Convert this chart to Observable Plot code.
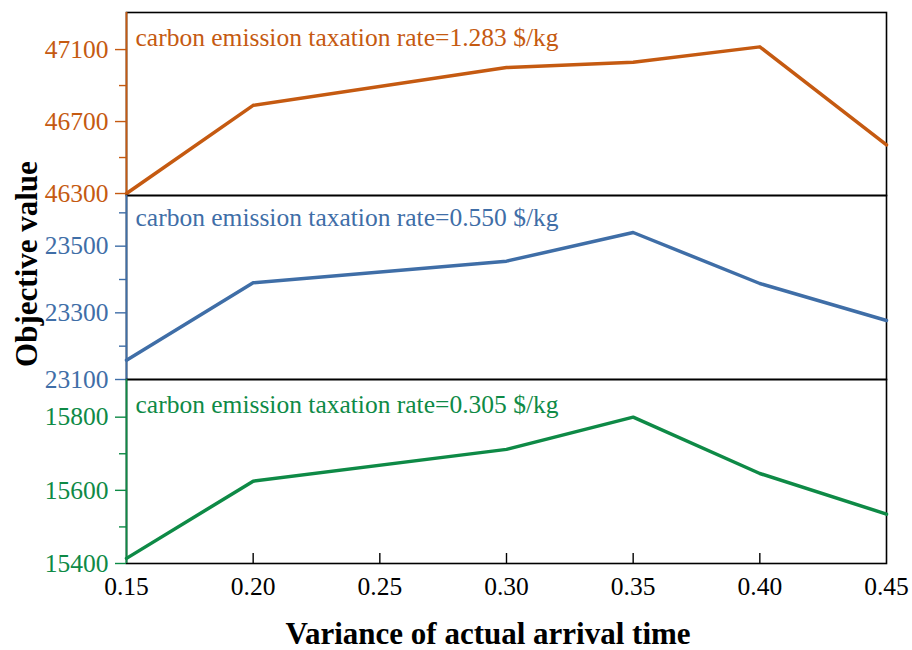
<!DOCTYPE html>
<html>
<head>
<meta charset="utf-8">
<script src="https://cdn.jsdelivr.net/npm/d3@7"></script>
<script src="https://cdn.jsdelivr.net/npm/@observablehq/plot@0.6"></script>
<style>
  html, body { margin: 0; padding: 0; background: #fff; }
  #wrap { position: relative; width: 912px; height: 650px; font-family: "Liberation Serif", "Times New Roman", serif; }
  #wrap > div.panel { position: absolute; left: 0; }
  .ytitle { position: absolute; left: 27px; top: 264px; transform: translate(-50%, -50%) rotate(-90deg); font-weight: bold; font-size: 31px; white-space: nowrap; color: #000; }
  .xtitle { position: absolute; left: 488px; top: 634px; transform: translate(-50%, -50%); font-weight: bold; font-size: 31px; white-space: nowrap; color: #000; }
</style>
</head>
<body>
<div id="wrap"></div>
<script>
const xValues = [0.15, 0.20, 0.30, 0.35, 0.40, 0.45];
const xTicks = [0.15, 0.20, 0.25, 0.30, 0.35, 0.40, 0.45];

const rates = ["1.283", "0.550", "0.305"];
const series1283 = [46300, 46790, 47000, 47030, 47115, 46570];
const series0550 = [23158, 23390, 23455, 23541, 23388, 23277];
const series0305 = [15414, 15625, 15712, 15800, 15646, 15535];

const yMajor1283 = [46300, 46700, 47100];
const yMinor1283 = [46500, 46900];
const yMajor0550 = [23100, 23300, 23500];
const yMinor0550 = [23200, 23400, 23600];
const yMajor0305 = [15400, 15600, 15800];
const yMinor0305 = [15500, 15700];

const colors = ["#C55A11", "#3F6EA7", "#0E8A46"];

const panels = [
  {values: series1283, major: yMajor1283, minor: yMinor1283, domain: [46289, 47306], top: 0, marginTop: 12, height: 195, marginBottom: 0, textDy: 25},
  {values: series0550, major: yMajor0550, minor: yMinor0550, domain: [23100, 23652], top: 195, marginTop: 0, height: 184, marginBottom: 0, textDy: 22},
  {values: series0305, major: yMajor0305, minor: yMinor0305, domain: [15400, 15903], top: 379, marginTop: 0, height: 271, marginBottom: 87, textDy: 25}
];

const wrap = document.getElementById("wrap");
const font = "'Liberation Serif', 'Times New Roman', serif";

panels.forEach((p, i) => {
  const color = colors[i];
  const data = xValues.map((x, j) => ({x, y: p.values[j]}));
  const isLast = i === panels.length - 1;
  const marks = [
    Plot.frame({stroke: "black", strokeWidth: 1.6}),
    Plot.axisY(p.minor, {tickSize: 7, text: null, stroke: color, strokeWidth: 1.4, label: null}),
    Plot.axisY(p.major, {tickSize: 11, tickPadding: 7, stroke: color, strokeWidth: 1.4, fill: color, fontSize: 25.5, label: null, tickFormat: d => String(d)}),
    Plot.ruleX([0.15], {stroke: color, strokeWidth: 1.8}),
    Plot.line(data, {x: "x", y: "y", stroke: color, strokeWidth: 3.5}),
    Plot.text([`carbon emission taxation rate=${rates[i]} $/kg`], {frameAnchor: "top-left", dx: 9, dy: p.textDy, textAnchor: "start", lineAnchor: "middle", fill: color, fontSize: 25.5})
  ];
  if (isLast) {
    marks.push(Plot.axisX(xTicks.slice(1, -1), {tickSize: -10, text: null, stroke: "black", strokeWidth: 1.4, label: null}));
    marks.push(Plot.axisX(xTicks, {tickSize: 0, tickPadding: 13, fill: "black", fontSize: 25.5, tickFormat: d3.format(".2f"), label: null}));
  }
  const chart = Plot.plot({
    width: 912,
    height: p.height,
    marginLeft: 126,
    marginRight: 26,
    marginTop: p.marginTop,
    marginBottom: p.marginBottom,
    style: {fontFamily: font, background: "transparent", overflow: "visible"},
    x: {domain: [0.15, 0.45], axis: null},
    y: {domain: p.domain, axis: null},
    marks
  });
  const div = document.createElement("div");
  div.className = "panel";
  div.style.top = p.top + "px";
  div.appendChild(chart);
  wrap.appendChild(div);
});

const yt = document.createElement("div");
yt.className = "ytitle";
yt.textContent = "Objective value";
wrap.appendChild(yt);
const xt = document.createElement("div");
xt.className = "xtitle";
xt.textContent = "Variance of actual arrival time";
wrap.appendChild(xt);
</script>
</body>
</html>
